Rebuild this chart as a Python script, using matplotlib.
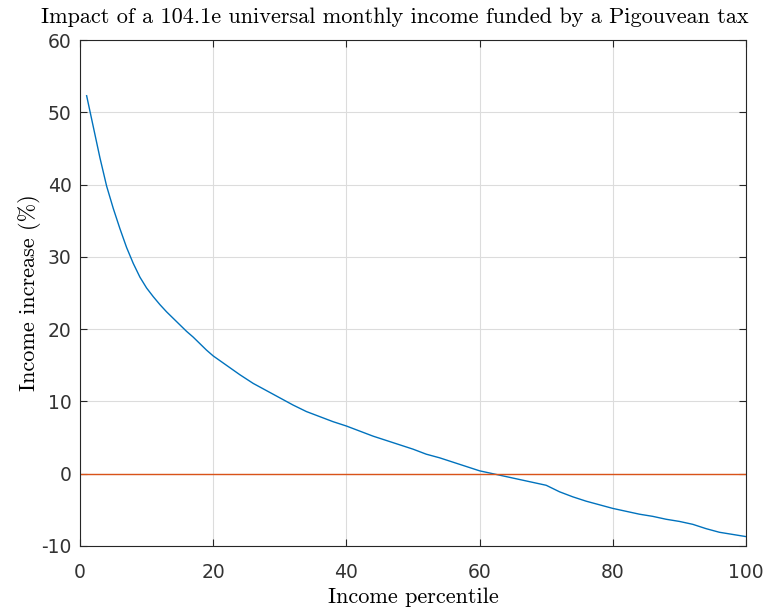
import numpy as np
import matplotlib
matplotlib.use("Agg")
import matplotlib.pyplot as plt

# income increase (%) per income percentile
percentile = [1, 2, 3, 4, 5, 6, 7, 8, 9, 10, 11, 12, 13, 14, 15, 16, 17, 18, 19, 20,
              22, 24, 26, 28, 30, 32, 34, 36, 38, 40, 42, 44, 46, 48, 50, 52, 54, 56,
              58, 60, 62, 64, 66, 68, 70, 72, 74, 76, 78, 80, 82, 84, 86, 88, 90, 92,
              94, 96, 98, 100]
increase = [52.3, 48.0, 43.7, 39.8, 36.7, 33.9, 31.3, 29.1, 27.2, 25.7, 24.5, 23.4,
            22.4, 21.5, 20.6, 19.7, 18.9, 18.0, 17.1, 16.3, 15.0, 13.7, 12.5, 11.5,
            10.5, 9.5, 8.6, 7.9, 7.2, 6.6, 5.9, 5.2, 4.6, 4.0, 3.4, 2.7, 2.2, 1.6,
            1.0, 0.4, 0.0, -0.4, -0.8, -1.2, -1.6, -2.5, -3.2, -3.8, -4.3, -4.8,
            -5.2, -5.6, -5.9, -6.3, -6.6, -7.0, -7.6, -8.1, -8.4, -8.7]

xticks = [0, 20, 40, 60, 80, 100]
yticks = [-10, 0, 10, 20, 30, 40, 50, 60]

fig = plt.figure(figsize=(7.66, 6.07), dpi=100)
ax = fig.add_axes([0.1044, 0.1005, 0.8695, 0.8335])

ax.plot(percentile, increase, color="#0072BD", lw=1.0)
ax.plot([0, 100], [0, 0], color="#D95319", lw=1.0)

ax.set_xlim(0, 100)
ax.set_ylim(-10, 60)
ax.set_xticks(xticks)
ax.set_yticks(yticks)
ax.set_yticklabels([str(t) for t in yticks])  # plain hyphen for -10
ax.tick_params(direction="in", length=5, width=0.8, top=True, right=True,
               labelsize=13.5, labelcolor="#333333", color="#262626")
ax.tick_params(axis="x", pad=12)
ax.tick_params(axis="y", pad=6)
ax.grid(True, color="#dcdcdc", lw=0.8)
ax.set_axisbelow(True)
for s in ax.spines.values():
    s.set_color("#262626")
    s.set_linewidth(0.8)

ax.set_title("Impact of a 104.1e universal monthly income funded by a Pigouvean tax",
             fontfamily="cmr10", fontsize=16, x=0.473, pad=12)
ax.set_xlabel("Income percentile", fontfamily="cmr10", fontsize=16, labelpad=4)
ax.set_ylabel("Income increase (%)", fontfamily="cmr10", fontsize=16, labelpad=0)

fig.savefig("out.png", dpi=100)
